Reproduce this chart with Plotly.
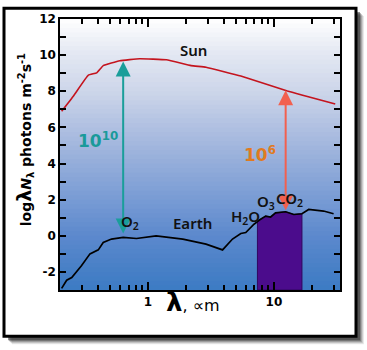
import math
import plotly.graph_objects as go

# Solar and terrestrial photon spectra: wavelength (µm) vs log10(λ·Nλ)
sun_wl = [0.206, 0.256, 0.336, 0.391, 0.441, 0.597, 0.859, 1.40, 2.20, 2.89, 5.46, 12.8, 30.7]
sun_val = [6.89, 7.74, 8.89, 9.02, 9.42, 9.69, 9.80, 9.74, 9.42, 9.33, 8.84, 8.01, 7.29]

earth_wl = [0.206, 0.226, 0.248, 0.297, 0.346, 0.403, 0.441, 0.513, 0.635, 0.81, 1.16,
            1.89, 2.89, 3.91, 4.69, 5.46, 5.98, 6.35, 6.95, 7.4, 7.62, 8.6, 9.42, 10.3,
            12.4, 14.4, 16.7, 18.9, 24.8, 29.8]
earth_val = [-2.91, -2.46, -2.31, -1.64, -1.0, -0.78, -0.37, -0.18, -0.09, -0.15, 0.0,
             -0.18, -0.46, -0.78, -0.18, 0.13, 0.18, 0.37, 0.64, 0.78, 0.86, 1.09, 1.04, 1.27,
             1.33, 1.18, 1.22, 1.46, 1.37, 1.22]

# Thermal-infrared window band (µm)
band_lo, band_hi = 7.4, 16.7

# Contrast arrows: wavelength, bottom value, top value
visible_arrow = (0.635, 0.05, 9.65)
ir_arrow = (12.4, 1.33, 8.05)

y_min, y_max = -3, 12
x_min, x_max = 0.2, 33.5

y_major = [-2, 0, 2, 4, 6, 8, 10, 12]
y_major_labels = ["-2", "0", "2", "4", "6", "8", "10", "12"]
y_minor = [-3, -1, 1, 3, 5, 7, 9, 11]
x_major = [1, 10]
x_major_labels = ["1", "10"]
x_minor = [0.2, 0.3, 0.4, 0.5, 0.6, 0.7, 0.8, 0.9, 2, 3, 4, 5, 6, 7, 8, 9, 20, 30]

# Plot area geometry (pixels)
W, H = 367, 350
ML, MR, MT, MB = 60, 27, 15, 60
PW, PH = W - ML - MR, H - MT - MB


def px(xp):
    return (xp - ML) / PW


def py(yp):
    return (H - MB - yp) / PH


fig = go.Figure()

# Window band filled under the Earth curve
bx = [w for w in earth_wl if band_lo <= w <= band_hi]
by = [v for w, v in zip(earth_wl, earth_val) if band_lo <= w <= band_hi]
fig.add_trace(go.Scatter(
    x=bx + [band_hi, band_lo, band_lo], y=by + [y_min, y_min, by[0]],
    fill="toself", fillcolor="#4b0c8c", mode="lines",
    line=dict(color="#30065e", width=1), hoverinfo="skip", showlegend=False))

fig.add_trace(go.Scatter(x=sun_wl, y=sun_val, mode="lines",
                         line=dict(color="#c4141e", width=1.6, shape="spline", smoothing=0.3),
                         showlegend=False))
fig.add_trace(go.Scatter(x=earth_wl, y=earth_val, mode="lines",
                         line=dict(color="#000000", width=1.7),
                         showlegend=False))

# Vertical background gradient, white at top to blue at the bottom
stops = [(12, (255, 255, 255)), (11, (240, 242, 248)), (10, (226, 231, 242)),
         (8, (205, 214, 234)), (6, (176, 192, 225)), (4, (148, 173, 218)),
         (2, (120, 155, 212)), (0, (92, 137, 205)), (-2, (70, 127, 198)),
         (-3, (60, 123, 196))]


def grad(v):
    for (v0, c0), (v1, c1) in zip(stops[:-1], stops[1:]):
        if v1 <= v <= v0:
            t = (v0 - v) / (v0 - v1)
            return "rgb(%d,%d,%d)" % tuple(round(a + (b - a) * t) for a, b in zip(c0, c1))
    return "rgb(60,123,196)"


shapes = []
# Drop shadow and outer frame
for k, op in enumerate([0.10, 0.15, 0.22, 0.32, 0.50]):
    off = 7 - k
    shapes.append(dict(type="rect", xref="paper", yref="paper",
                       x0=px(4 + off + 1), x1=px(357 + off), y0=py(338 + off), y1=py(4 + off + 1),
                       fillcolor="rgba(40,40,40,%.2f)" % op, line=dict(width=0), layer="below"))
shapes.append(dict(type="rect", xref="paper", yref="paper",
                   x0=px(4), x1=px(356), y0=py(337), y1=py(4),
                   fillcolor="#ffffff", line=dict(color="#000000", width=3), layer="below"))

# Gradient bands: each one runs down to the floor so no seams show between them
n = 60
for i in range(n):
    top = y_max - (y_max - y_min) * i / n
    bot = y_max - (y_max - y_min) * (i + 1) / n
    shapes.append(dict(type="rect", xref="paper", yref="y", x0=0, x1=1, y0=y_min, y1=top,
                       fillcolor=grad((top + bot) / 2), line=dict(width=0), layer="below"))

lab_font = dict(family="Noto Sans, Open Sans, sans-serif", size=15, color="#111111",
                weight=600)
annotations = [
    dict(x=math.log10(visible_arrow[0]), y=visible_arrow[2], ax=math.log10(visible_arrow[0]),
         ay=visible_arrow[1], xref="x", yref="y", axref="x", ayref="y", text="",
         showarrow=True, arrowhead=2, arrowsize=1.5, arrowwidth=2, arrowside="end+start",
         arrowcolor="#1a9e9a", standoff=0, startstandoff=0),
    dict(x=math.log10(ir_arrow[0]), y=ir_arrow[2], ax=math.log10(ir_arrow[0]),
         ay=ir_arrow[1], xref="x", yref="y", axref="x", ayref="y", text="",
         showarrow=True, arrowhead=2, arrowsize=1.5, arrowwidth=2, arrowside="end+start",
         arrowcolor="#f2604f", standoff=0, startstandoff=0),
    dict(x=math.log10(0.398), y=5.3, text="<b>10<sup>10</sup></b>", showarrow=False,
         font=dict(family="DejaVu Sans", size=17, color="#1a9a9a")),
    dict(x=math.log10(7.7), y=4.55, text="<b>10<sup>6</sup></b>", showarrow=False,
         font=dict(family="DejaVu Sans", size=17, color="#e07b1f")),
    dict(x=math.log10(2.28), y=10.3, text="Sun", showarrow=False, font=lab_font),
    dict(x=math.log10(2.24), y=0.73, text="Earth", showarrow=False, font=lab_font),
    dict(x=math.log10(0.72), y=0.75, text="O<sub>2</sub>", showarrow=False, font=lab_font),
    dict(x=math.log10(6.0), y=1.05, text="H<sub>2</sub>O", showarrow=False, font=lab_font),
    dict(x=math.log10(8.7), y=1.85, text="O<sub>3</sub>", showarrow=False, font=lab_font),
    dict(x=math.log10(13.4), y=2.05, text="CO<sub>2</sub>", showarrow=False, font=lab_font),
    # Axis titles
    dict(xref="paper", yref="paper", x=px(24), y=py(138), textangle=-90, showarrow=False,
         xanchor="center", yanchor="middle",
         text="<b>log<span style='font-size:19px'>λ</span><i>N</i><sub>λ</sub> photons m<sup>-2</sup>s<sup>-1</sup></b>",
         font=dict(family="DejaVu Sans", size=14, color="#000000")),
    dict(xref="paper", yref="paper", x=px(193), y=py(319), showarrow=False,
         text="<b><span style='font-size:26px'>λ</span></b>, ∝m",
         font=dict(family="DejaVu Sans", size=16, color="#000000")),
]

tick_font = dict(family="DejaVu Sans", size=12, color="#000000", weight="bold")
fig.update_layout(
    width=W, height=H, margin=dict(l=ML, r=MR, t=MT, b=MB),
    paper_bgcolor="#ffffff", plot_bgcolor="rgba(0,0,0,0)",
    shapes=shapes, annotations=annotations,
    xaxis=dict(type="log", range=[math.log10(x_min), math.log10(x_max)],
               tickvals=x_major, ticktext=x_major_labels, ticks="inside", ticklen=8,
               tickwidth=1.5, tickcolor="#000", showline=True, linecolor="#000", linewidth=1.5,
               mirror="ticks", showgrid=False, zeroline=False, tickfont=tick_font,
               minor=dict(tickvals=x_minor, ticks="inside", ticklen=5, tickwidth=1.5,
                          tickcolor="#000", showgrid=False)),
    yaxis=dict(range=[y_min, y_max], tickvals=y_major, ticktext=y_major_labels, ticks="inside",
               ticklen=6, tickwidth=1.5, tickcolor="#000", showline=True, linecolor="#000",
               linewidth=1.5, mirror="ticks", showgrid=False, zeroline=False,
               tickfont=tick_font,
               minor=dict(tickvals=y_minor, ticks="inside", ticklen=6, tickwidth=1.5,
                          tickcolor="#000", showgrid=False)),
)

fig.write_html("out.html")
